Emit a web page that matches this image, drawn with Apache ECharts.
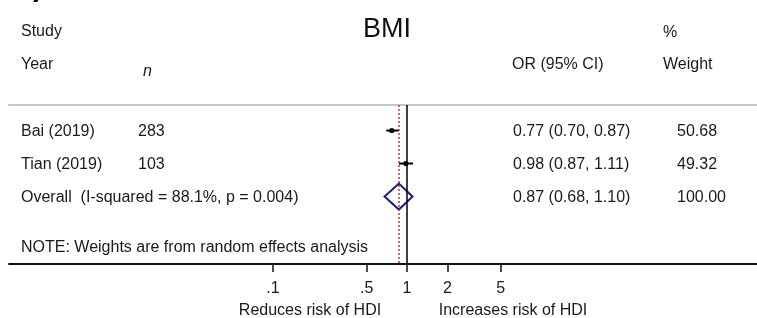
<!DOCTYPE html>
<html>
<head>
<meta charset="utf-8">
<script src="https://cdn.jsdelivr.net/npm/echarts@6/dist/echarts.min.js"></script>
<style>
html, body { margin: 0; padding: 0; background: #fff; }
#main { width: 757px; height: 318px; }
</style>
</head>
<body>
<div id="main"></div>
<script>
// forest plot data (odds ratios)
var studies = ['Bai (2019)', 'Tian (2019)'];
var sizes = [283, 103];
var orEst = [0.77, 0.98];
var orLow = [0.70, 0.87];
var orHigh = [0.87, 1.11];
var weights = [50.68, 49.32];
var overallLabel = 'Overall  (I-squared = 88.1%, p = 0.004)';
var overallEst = 0.87, overallLow = 0.68, overallHigh = 1.10, overallWeight = 100.00;
var tickValues = [0.1, 0.5, 1, 2, 5];
var tickLabels = ['.1', '.5', '1', '2', '5'];

var FONT = 'Liberation Sans, Arial, sans-serif';
var TXT = '#1a1a1a';
var lg = Math.log10;

var dom = document.getElementById('main');
var myChart = echarts.init(dom);

function orText(e, l, h) {
    return e.toFixed(2) + ' (' + l.toFixed(2) + ', ' + h.toFixed(2) + ')';
}

// table rows: name, n, OR text, weight
var rows = studies.map(function (s, i) {
    return [s, String(sizes[i]), orText(orEst[i], orLow[i], orHigh[i]), weights[i].toFixed(2), i + 1];
});
rows.push([overallLabel, '', orText(overallEst, overallLow, overallHigh), overallWeight.toFixed(2), 3]);

var ciData = studies.map(function (s, i) {
    return [lg(orLow[i]), lg(orHigh[i]), lg(orEst[i]), i + 1];
});

var xMin = -2.970, xMax = 2.612;

function txt(x, y, s, extra) {
    var st = { text: s, fill: TXT, font: '16px ' + FONT, textVerticalAlign: 'middle' };
    for (var k in extra) st[k] = extra[k];
    return { type: 'text', x: x, y: y, style: st, silent: true };
}

var option = {
    animation: false,
    grid: { left: 9, right: 0, top: 105, bottom: 54 },
    xAxis: [
        {
            type: 'value', min: xMin, max: xMax,
            splitLine: { show: false },
            axisLine: { lineStyle: { color: '#111', width: 2 } },
            axisTick: { customValues: tickValues.map(lg), length: 8, lineStyle: { color: '#111', width: 1.5 } },
            axisLabel: {
                customValues: tickValues.map(lg),
                margin: 17, color: TXT, fontSize: 16, fontFamily: FONT,
                formatter: function (v) {
                    for (var i = 0; i < tickValues.length; i++) {
                        if (Math.abs(lg(tickValues[i]) - v) < 1e-6) return tickLabels[i];
                    }
                    return '';
                }
            }
        },
        {
            type: 'value', position: 'top', min: xMin, max: xMax,
            splitLine: { show: false },
            axisLine: { lineStyle: { color: '#c6c6c6', width: 2 } },
            axisTick: { show: false },
            axisLabel: { show: false }
        }
    ],
    yAxis: { type: 'value', inverse: true, min: 0.227, max: 5.045, show: false },
    series: [
        {
            type: 'custom',
            name: 'ci',
            data: ciData,
            encode: { x: [0, 1, 2], y: 3 },
            renderItem: function (params, api) {
                var p1 = api.coord([api.value(0), api.value(3)]);
                var p2 = api.coord([api.value(1), api.value(3)]);
                var pe = api.coord([api.value(2), api.value(3)]);
                return {
                    type: 'group',
                    children: [
                        { type: 'line', shape: { x1: p1[0], y1: p1[1], x2: p2[0], y2: p2[1] }, style: { stroke: '#000', lineWidth: 2 } },
                        { type: 'circle', shape: { cx: pe[0], cy: pe[1], r: 2.6 }, style: { fill: '#000' } }
                    ]
                };
            },
            markLine: {
                silent: true,
                symbol: ['none', 'none'],
                label: { show: false },
                data: [
                    { xAxis: 0, lineStyle: { color: '#000', type: 'solid', width: 1.5 } },
                    { xAxis: lg(overallEst), lineStyle: { color: '#c0343c', type: [2, 2], width: 1.5 } }
                ]
            }
        },
        {
            type: 'custom',
            name: 'overall',
            data: [[lg(overallLow), lg(overallHigh), lg(overallEst), 3]],
            encode: { x: [0, 1, 2], y: 3 },
            renderItem: function (params, api) {
                var pl = api.coord([api.value(0), api.value(3)]);
                var ph = api.coord([api.value(1), api.value(3)]);
                var pe = api.coord([api.value(2), api.value(3)]);
                return {
                    type: 'polygon',
                    shape: { points: [[pl[0], pl[1]], [pe[0], pe[1] - 13], [ph[0], ph[1]], [pe[0], pe[1] + 13]] },
                    style: { stroke: '#1c1c78', fill: 'none', lineWidth: 2 }
                };
            }
        },
        {
            type: 'custom',
            name: 'table',
            data: rows.map(function (r) { return [0, r[4]]; }),
            encode: { x: 0, y: 1 },
            renderItem: function (params, api) {
                var r = rows[params.dataIndex];
                var y = api.coord([0, api.value(1)])[1] + 1;
                return {
                    type: 'group',
                    children: [
                        txt(21, y, r[0]),
                        txt(138, y, r[1]),
                        txt(513, y, r[2]),
                        txt(677, y, r[3])
                    ]
                };
            }
        }
    ],
    graphic: [
        txt(33, -12, ')', { font: 'bold 30px ' + FONT, fill: '#000' }),
        txt(21, 32, 'Study'),
        txt(21, 65, 'Year'),
        txt(143, 72, 'n', { font: 'italic 16px ' + FONT }),
        txt(387, 30, 'BMI', { font: '27px ' + FONT, textAlign: 'center', fill: '#111' }),
        txt(663, 33, '%'),
        txt(512, 65, 'OR (95% CI)'),
        txt(663, 65, 'Weight'),
        txt(21, 248, 'NOTE: Weights are from random effects analysis'),
        txt(310, 311, 'Reduces risk of HDI', { textAlign: 'center' }),
        txt(513, 311, 'Increases risk of HDI', { textAlign: 'center' })
    ]
};

if (option && typeof option === 'object') {
    myChart.setOption(option, true);
}
</script>
</body>
</html>
